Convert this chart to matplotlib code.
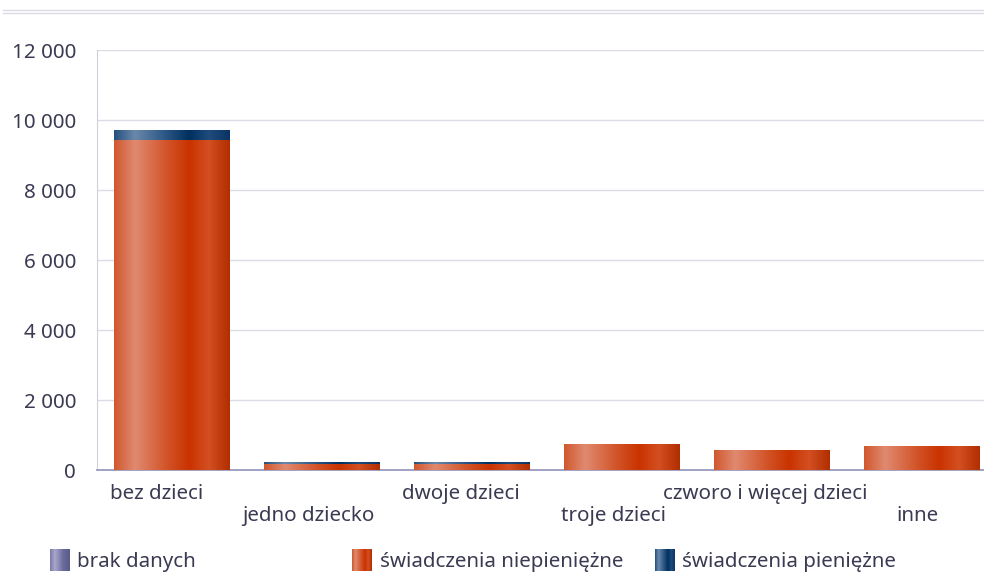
import numpy as np
import matplotlib
matplotlib.use("Agg")
import matplotlib.pyplot as plt
from matplotlib.colors import LinearSegmentedColormap
from matplotlib.lines import Line2D

categories = ["bez dzieci", "jedno dziecko", "dwoje dzieci", "troje dzieci",
              "czworo i więcej dzieci", "inne"]
brak_danych = [0, 0, 0, 0, 0, 0]
niepieniezne = [9430, 180, 180, 750, 580, 690]
pieniezne = [285, 55, 55, 0, 0, 0]
series_names = ["brak danych", "świadczenia niepieniężne", "świadczenia pieniężne"]
yticks = [0, 2000, 4000, 6000, 8000, 10000, 12000]

plt.rcParams['font.family'] = ['Noto Sans', 'DejaVu Sans']
FS = 14.8
TXT = "#3a3a52"

def grad_cmap(name, stops):
    return LinearSegmentedColormap.from_list(name, stops)

cm_orange = grad_cmap("o", [(0.0, "#d0582e"), (0.18, "#e08a70"), (0.45, "#d2552a"),
                             (0.65, "#c93300"), (0.82, "#d44f22"), (1.0, "#b02e00")])
cm_blue = grad_cmap("b", [(0.0, "#24507e"), (0.18, "#6a88aa"), (0.45, "#2a5584"),
                           (0.65, "#00305f"), (0.82, "#1f4c7e"), (1.0, "#0a3362")])
cm_purple = grad_cmap("p", [(0.0, "#7a7aa8"), (0.25, "#a8a8cc"), (0.65, "#6c6c9c"),
                             (1.0, "#5a5a8a")])

fig = plt.figure(figsize=(9.84, 5.73), dpi=100)
ax = fig.add_axes([97/984, 1-470/573, 900/984, 420/573])

x = np.arange(len(categories))
width = 0.77
grad = np.linspace(0, 1, 256).reshape(1, -1)

def gradient_bars(values, bottom, cmap):
    bars = ax.bar(x, values, width, bottom=bottom, facecolor="none", edgecolor="none", zorder=3)
    for b in bars:
        h = b.get_height()
        if h <= 0:
            continue
        x0, y0 = b.get_x(), b.get_y()
        im = ax.imshow(grad, cmap=cmap, aspect="auto",
                       extent=[x0, x0 + b.get_width(), y0, y0 + h],
                       zorder=3, interpolation="bicubic")
        im.set_clip_path(b)
    return bars

b0 = np.array(brak_danych, dtype=float)
b1 = np.array(niepieniezne, dtype=float)
b2 = np.array(pieniezne, dtype=float)
gradient_bars(b0, 0, cm_purple)
gradient_bars(b1, b0, cm_orange)
gradient_bars(b2, b0 + b1, cm_blue)

ax.set_xlim(-0.5, len(categories) - 0.5)
ax.set_ylim(0, 12000)
ax.set_yticks(yticks)
ax.set_yticklabels([f"{v:,}".replace(",", " ") for v in yticks])
ax.grid(axis="y", color="#dcdce8", linewidth=1, zorder=0)
ax.set_axisbelow(True)
for s in ["top", "right"]:
    ax.spines[s].set_visible(False)
ax.spines["left"].set_color("#d0d0dc")
ax.spines["bottom"].set_color("#9a9ac0")
ax.spines["bottom"].set_linewidth(1.3)
ax.tick_params(axis="y", length=0, pad=15, labelsize=FS, labelcolor=TXT)
ax.tick_params(axis="x", length=0)
ax.set_xticks(x)
ax.set_xticklabels([])

for i, c in enumerate(categories):
    yoff = -24 if i % 2 == 0 else -46
    ax.annotate(c, xy=(i, 0), xycoords=("data", "axes fraction"),
                xytext=(-15.5 + 2.2 * i, yoff), textcoords="offset pixels",
                ha="center", va="center", fontsize=FS, color=TXT)

# top double rule
for yy in [10, 12.5]:
    fig.add_artist(Line2D([3/984, 1], [1-yy/573, 1-yy/573], transform=fig.transFigure,
                          color="#dcdce8", linewidth=1))

# legend
leg_items = [(50, 77, cm_purple, series_names[0]),
             (352, 380, cm_orange, series_names[1]),
             (655, 682, cm_blue, series_names[2])]
for px, tx, cm, label in leg_items:
    lax = fig.add_axes([px/984, 1-571/573, 20/984, 22/573])
    lax.imshow(grad, cmap=cm, aspect="auto", extent=[0, 1, 0, 1])
    lax.set_axis_off()
    fig.text(tx/984, 1-562/573, label, ha="left", va="center", fontsize=FS, color=TXT)

fig.savefig("out.png", dpi=100)
